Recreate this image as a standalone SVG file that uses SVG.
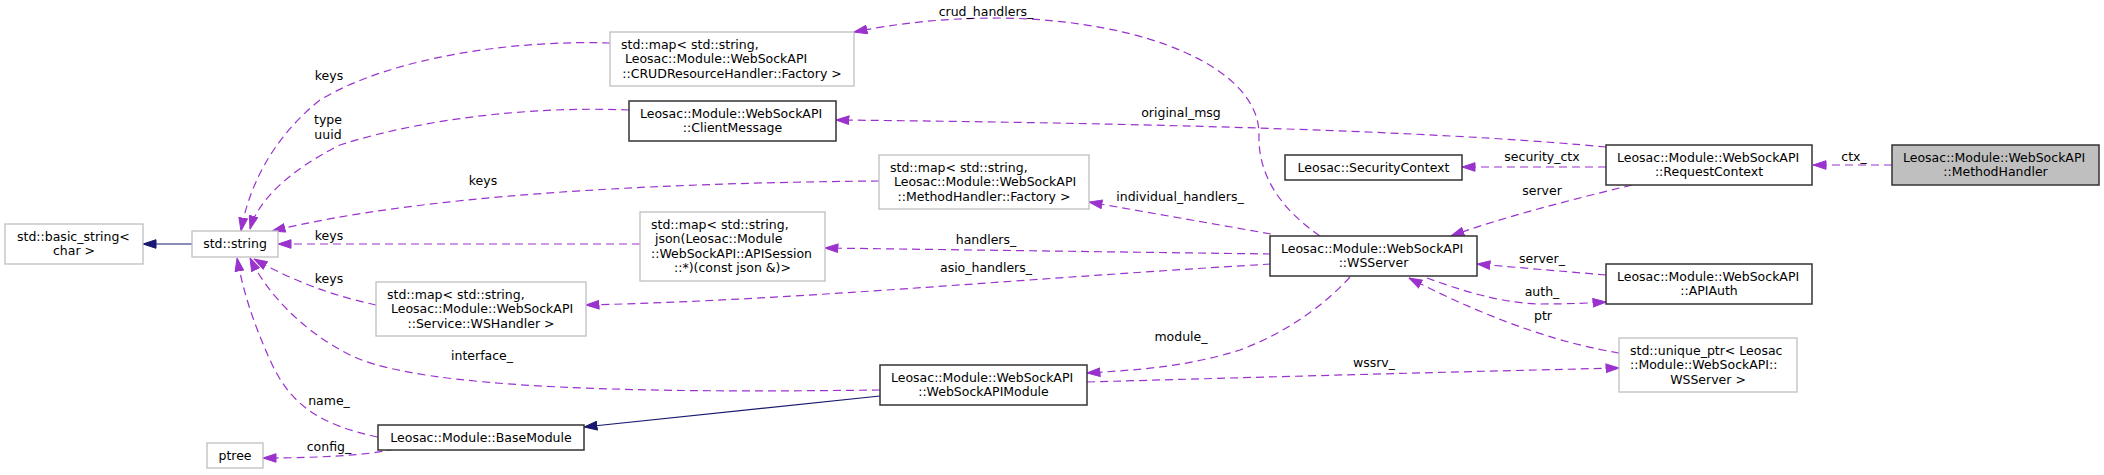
<svg xmlns="http://www.w3.org/2000/svg" width="2104" height="475" viewBox="0 0 2104 475">
<style>
text{font-family:"DejaVu Sans","Liberation Sans",sans-serif;font-size:12.5px;fill:#000}
.c{text-anchor:middle}
.box{fill:#fff;stroke:#333;stroke-width:1.5}
.gbox{fill:#fff;stroke:#bfbfbf;stroke-width:1.3}
.cur{fill:#bfbfbf;stroke:#333;stroke-width:1.5}
.use{fill:none;stroke:#9a32cd;stroke-width:1.2;stroke-dasharray:8,5;marker-end:url(#pa)}
.inh{fill:none;stroke:#191970;stroke-width:1.2;marker-end:url(#na)}
</style>
<defs>
<marker id="pa" markerUnits="userSpaceOnUse" markerWidth="14" markerHeight="10" viewBox="0 0 13 10" refX="13" refY="5" orient="auto"><path d="M0,0.7 L13,5 L0,9.3 z" fill="#9a32cd" stroke="#9a32cd" stroke-width="1"/></marker>
<marker id="na" markerUnits="userSpaceOnUse" markerWidth="14" markerHeight="10" viewBox="0 0 13 10" refX="13" refY="5" orient="auto"><path d="M0,0.7 L13,5 L0,9.3 z" fill="#191970" stroke="#191970" stroke-width="1"/></marker>
</defs>
<rect width="2104" height="475" fill="#fff"/>
<g id="edges">
<path class="inh" d="M192,244 L143,244"/>
<path class="inh" d="M880,396 L584,427"/>
<path class="use" d="M610,43 C520,40 395,55 320,100 C270,140 248,190 241,231"/>
<path class="use" d="M629,110 C536,106 424,118 340,145 C290,170 258,200 250,229"/>
<path class="use" d="M879,181 C650,183 420,195 272,231"/>
<path class="use" d="M640,244 L278,244"/>
<path class="use" d="M376,305 C340,297 300,285 254,259"/>
<path class="use" d="M880,390 C650,393 420,390 350,355 C300,330 265,290 250,258"/>
<path class="use" d="M378,437 C320,425 290,405 270,360 C252,320 243,290 237,258"/>
<path class="use" d="M395,449 C370,455 320,458 263,458"/>
<path class="use" d="M1320,236 C1275,205 1258,170 1259,135 C1260,70 1150,20 1000,18 C940,18 895,24 854,32"/>
<path class="use" d="M1606,147 C1480,135 1250,124 836,120"/>
<path class="use" d="M1271,234 L1089,202"/>
<path class="use" d="M1271,254 L825,248"/>
<path class="use" d="M1271,264 C1000,280 800,300 586,305"/>
<path class="use" d="M1350,277 C1320,310 1280,335 1240,350 C1190,366 1140,370 1087,373"/>
<path class="use" d="M1087,382 C1300,376 1450,372 1619,368"/>
<path class="use" d="M1606,167 L1462,167"/>
<path class="use" d="M1632,185 C1570,200 1500,218 1451,236"/>
<path class="use" d="M1892,165 L1813,165"/>
<path class="use" d="M1606,275 L1477,264"/>
<path class="use" d="M1427,278 C1460,290 1500,303 1540,304 C1570,304 1590,303 1606,302"/>
<path class="use" d="M1619,353 C1570,345 1500,325 1409,278"/>
</g>
<g id="edge-labels">
<text class="c" x="329" y="80">keys</text>
<text class="c" x="328" y="124">type</text>
<text class="c" x="328" y="139">uuid</text>
<text class="c" x="483" y="185">keys</text>
<text class="c" x="329" y="240">keys</text>
<text class="c" x="329" y="283">keys</text>
<text class="c" x="482" y="360">interface_</text>
<text class="c" x="329" y="405">name_</text>
<text class="c" x="329" y="451">config_</text>
<text class="c" x="986" y="16">crud_handlers_</text>
<text class="c" x="1181" y="117">original_msg</text>
<text class="c" x="1180" y="201">individual_handlers_</text>
<text class="c" x="986" y="244">handlers_</text>
<text class="c" x="986" y="272">asio_handlers_</text>
<text class="c" x="1181" y="341">module_</text>
<text class="c" x="1374" y="367">wssrv_</text>
<text class="c" x="1542" y="161">security_ctx</text>
<text class="c" x="1542" y="195">server</text>
<text class="c" x="1542" y="263">server_</text>
<text class="c" x="1542" y="296">auth_</text>
<text class="c" x="1543" y="320">ptr</text>
<text class="c" x="1854" y="161">ctx_</text>
</g>
<g id="MethodHandler">
<rect class="cur" x="1892" y="145" width="207" height="40"/>
<text x="1903" y="161.5">Leosac::Module::WebSockAPI</text>
<text class="c" x="1995.5" y="176">::MethodHandler</text>
</g>
<g id="RequestContext">
<rect class="box" x="1606" y="145" width="206" height="40"/>
<text x="1617" y="161.5">Leosac::Module::WebSockAPI</text>
<text class="c" x="1709" y="176">::RequestContext</text>
</g>
<g id="APIAuth">
<rect class="box" x="1606" y="264" width="206" height="40"/>
<text x="1617" y="280.5">Leosac::Module::WebSockAPI</text>
<text class="c" x="1709" y="295">::APIAuth</text>
</g>
<g id="unique_ptr">
<rect class="gbox" x="1619" y="338" width="178" height="54"/>
<text x="1630" y="354.5">std::unique_ptr&lt; Leosac</text>
<text x="1630" y="369">::Module::WebSockAPI::</text>
<text class="c" x="1708" y="383.5">WSServer &gt;</text>
</g>
<g id="WSServer">
<rect class="box" x="1270" y="236" width="207" height="40"/>
<text x="1281" y="252.5">Leosac::Module::WebSockAPI</text>
<text class="c" x="1373.5" y="267">::WSServer</text>
</g>
<g id="SecurityContext">
<rect class="box" x="1285" y="155" width="177" height="25"/>
<text class="c" x="1373.5" y="172">Leosac::SecurityContext</text>
</g>
<g id="ClientMessage">
<rect class="box" x="629" y="101" width="207" height="40"/>
<text x="640" y="117.5">Leosac::Module::WebSockAPI</text>
<text class="c" x="732.5" y="132">::ClientMessage</text>
</g>
<g id="CRUDMap">
<rect class="gbox" x="610" y="32" width="244" height="54"/>
<text x="621" y="48.5">std::map&lt; std::string,</text>
<text x="621" y="63" xml:space="preserve"> Leosac::Module::WebSockAPI</text>
<text class="c" x="732" y="77.5">::CRUDResourceHandler::Factory &gt;</text>
</g>
<g id="FactoryMap">
<rect class="gbox" x="879" y="155" width="210" height="54"/>
<text x="890" y="171.5">std::map&lt; std::string,</text>
<text x="890" y="186" xml:space="preserve"> Leosac::Module::WebSockAPI</text>
<text class="c" x="984" y="200.5">::MethodHandler::Factory &gt;</text>
</g>
<g id="JsonMap">
<rect class="gbox" x="640" y="212" width="185" height="69"/>
<text x="651" y="228.5">std::map&lt; std::string,</text>
<text x="651" y="243" xml:space="preserve"> json(Leosac::Module</text>
<text x="651" y="257.5">::WebSockAPI::APISession</text>
<text class="c" x="732.5" y="272">::*)(const json &amp;)&gt;</text>
</g>
<g id="WSHandlerMap">
<rect class="gbox" x="376" y="282" width="210" height="54"/>
<text x="387" y="298.5">std::map&lt; std::string,</text>
<text x="387" y="313" xml:space="preserve"> Leosac::Module::WebSockAPI</text>
<text class="c" x="481" y="327.5">::Service::WSHandler &gt;</text>
</g>
<g id="WebSockAPIModule">
<rect class="box" x="880" y="365" width="207" height="40"/>
<text x="891" y="381.5">Leosac::Module::WebSockAPI</text>
<text class="c" x="983.5" y="396">::WebSockAPIModule</text>
</g>
<g id="BaseModule">
<rect class="box" x="378" y="425" width="206" height="25"/>
<text class="c" x="481" y="442">Leosac::Module::BaseModule</text>
</g>
<g id="ptree">
<rect class="gbox" x="207" y="443" width="56" height="25"/>
<text class="c" x="235" y="460">ptree</text>
</g>
<g id="stdstring">
<rect class="gbox" x="192" y="231" width="86" height="26"/>
<text class="c" x="235" y="248">std::string</text>
</g>
<g id="basicstring">
<rect class="gbox" x="5" y="224" width="138" height="40"/>
<text x="17" y="240.5">std::basic_string&lt;</text>
<text class="c" x="74" y="255">char &gt;</text>
</g>
</svg>
